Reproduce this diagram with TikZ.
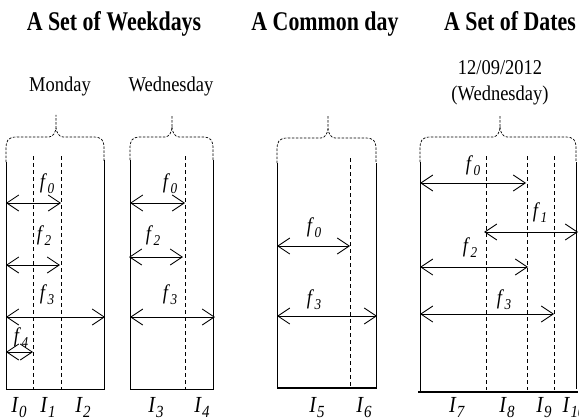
\documentclass[tikz,border=0pt]{standalone}
\usepackage{fontspec}
\usepackage{graphicx}
\setmainfont{Liberation Serif}
\usetikzlibrary{arrows.meta}
\newcommand\nar[1]{\scalebox{0.88}[1]{#1}}
\newcommand\tnar[1]{\scalebox{0.81}[1]{#1}}
\newcommand\sbl[2]{\nar{\textit{#1}\kern0.5pt\raisebox{-5pt}{\fontsize{15}{15}\selectfont\textit{#2}}}}
\newcommand\ibl[2]{\nar{\textit{#1}\kern0.5pt\raisebox{-5pt}{\fontsize{17}{17}\selectfont\textit{#2}}}}
\newcommand\mybrace[5]{%
  \draw[brc] (#1,#5) -- (#1,#4+12) .. controls (#1,#4+3) and (#1+2,#4) .. (#1+11,#4)
    -- (#3-7,#4) .. controls (#3-3,#4) and (#3,#4-5) .. (#3,#4-10) -- (#3,115)
    (#3,#4-10) .. controls (#3,#4-5) and (#3+3,#4) .. (#3+7,#4)
    -- (#2-11,#4) .. controls (#2-2,#4) and (#2,#4+3) .. (#2,#4+12) -- (#2,#5);}
\begin{document}
\begin{tikzpicture}[x=1pt,y=-1pt,
  brc/.style={dash pattern=on 2.5pt off 1.5pt, line width=0.7pt},
  wall/.style={line width=0.9pt},
  dsh/.style={dash pattern=on 4pt off 3pt, line width=0.8pt},
  dbl/.style={{Straight Barb[length=12pt,width=16pt]}-{Straight Barb[length=12pt,width=16pt]}, line width=0.9pt},
  ttl/.style={font=\fontsize{27}{30}\selectfont\bfseries, inner sep=0pt, anchor=base},
  sub/.style={font=\fontsize{21}{24}\selectfont, inner sep=0pt, anchor=base},
  lab/.style={font=\fontsize{21}{24}\selectfont, inner sep=0pt},
  ilab/.style={font=\fontsize{23}{26}\selectfont, inner sep=0pt, anchor=base}]
\useasboundingbox (0,0) rectangle (579,420);
% titles
\node[ttl] (t1) at (114,31) {\tnar{A Set of Weekdays}};
\node[ttl] (t2) at (325,31) {\tnar{A Common day}};
\node[ttl] (t3) at (510,31) {\tnar{A Set of Dates}};
\node[sub] (s1) at (60,92) {\nar{Monday}};
\node[sub] (s2) at (171,92) {\nar{Wednesday}};
\node[sub] (s3) at (500,75) {\nar{12/09/2012}};
\node[sub] (s4) at (500,101) {\nar{(Wednesday)}};
% braces
\mybrace{6}{104}{56}{137}{162}
\mybrace{130}{213}{172}{137}{160}
\mybrace{277}{376}{328}{138}{163}
\mybrace{420}{576}{500}{137}{162}
% ---------- panel 1
\draw[wall] (6,162) -- (6,389) -- (105,389) (104,160) -- (104,389);
\draw[dsh] (33,156) -- (33,389) (61,156) -- (61,389);
\coordinate (p1a) at (6,203); \coordinate (p1b) at (61,203);
\coordinate (p1c) at (6,265); \coordinate (p1d) at (60,265);
\coordinate (p1e) at (6,317); \coordinate (p1f) at (105,317);
\coordinate (p1g) at (6,352); \coordinate (p1h) at (33,352);
\draw[dbl] (p1a) -- (p1b);
\draw[dbl] (p1c) -- (p1d);
\draw[dbl] (p1e) -- (p1f);
\draw[dbl] (p1g) -- (p1h);
\node[lab] (f10) at (47,184) {\sbl{f}{0}};
\node[lab] (f12) at (44,236) {\sbl{f}{2}};
\node[lab] (f13) at (47,295) {\sbl{f}{3}};
\node[lab] (f14) at (21,338) {\sbl{f}{4}};
\node[ilab] (i0) at (19,412) {\ibl{I}{0}};
\node[ilab] (i1) at (48,412) {\ibl{I}{1}};
\node[ilab] (i2) at (83,412) {\ibl{I}{2}};
% ---------- panel 2
\draw[wall] (130,160) -- (130,389) -- (213,389) -- (213,160);
\draw[dsh] (185,156) -- (185,389);
\coordinate (p2a) at (130,203); \coordinate (p2b) at (185,203);
\coordinate (p2c) at (129,257); \coordinate (p2d) at (183,257);
\coordinate (p2e) at (130,317); \coordinate (p2f) at (215,317);
\draw[dbl] (p2a) -- (p2b);
\draw[dbl] (p2c) -- (p2d);
\draw[dbl] (p2e) -- (p2f);
\node[lab] (f20) at (170,184) {\sbl{f}{0}};
\node[lab] (f22) at (153,236) {\sbl{f}{2}};
\node[lab] (f23) at (170,295) {\sbl{f}{3}};
\node[ilab] (i3) at (156,412) {\ibl{I}{3}};
\node[ilab] (i4) at (202,412) {\ibl{I}{4}};
% ---------- panel 3
\draw[wall] (277,163) -- (277,388) (376,163) -- (376,388);
\draw[line width=1.8pt] (277,388) -- (377,388);
\draw[dsh] (350,158) -- (350,388);
\coordinate (p3a) at (277,246); \coordinate (p3b) at (350,246);
\coordinate (p3c) at (277,316); \coordinate (p3d) at (377,316);
\draw[dbl] (p3a) -- (p3b);
\draw[dbl] (p3c) -- (p3d);
\node[lab] (f30) at (314,228) {\sbl{f}{0}};
\node[lab] (f33) at (314,300) {\sbl{f}{3}};
\node[ilab] (i5) at (317,412) {\ibl{I}{5}};
\node[ilab] (i6) at (364,412) {\ibl{I}{6}};
% ---------- panel 4
\draw[wall] (420,162) -- (420,392) (576,162) -- (576,389);
\draw[line width=1.8pt] (418,392) -- (578,392);
\draw[dsh] (486,156) -- (486,390) (527,156) -- (527,390) (554,156) -- (554,390);
\coordinate (p4a) at (420,183); \coordinate (p4b) at (526,183);
\coordinate (p4c) at (484,232); \coordinate (p4d) at (578,232);
\coordinate (p4e) at (420,267); \coordinate (p4f) at (528,267);
\coordinate (p4g) at (420,314); \coordinate (p4h) at (554,314);
\draw[dbl] (p4a) -- (p4b);
\draw[dbl] (p4c) -- (p4d);
\draw[dbl] (p4e) -- (p4f);
\draw[dbl] (p4g) -- (p4h);
\node[lab] (f40) at (473,166) {\sbl{f}{0}};
\node[lab] (f41) at (540,213) {\sbl{f}{1}};
\node[lab] (f42) at (470,248) {\sbl{f}{2}};
\node[lab] (f43) at (504,300) {\sbl{f}{3}};
\node[ilab] (i7) at (457,412) {\ibl{I}{7}};
\node[ilab] (i8) at (507,412) {\ibl{I}{8}};
\node[ilab] (i9) at (544,412) {\ibl{I}{9}};
\node[ilab] (i10) at (574,412) {\ibl{I}{10}};
\end{tikzpicture}
\end{document}
